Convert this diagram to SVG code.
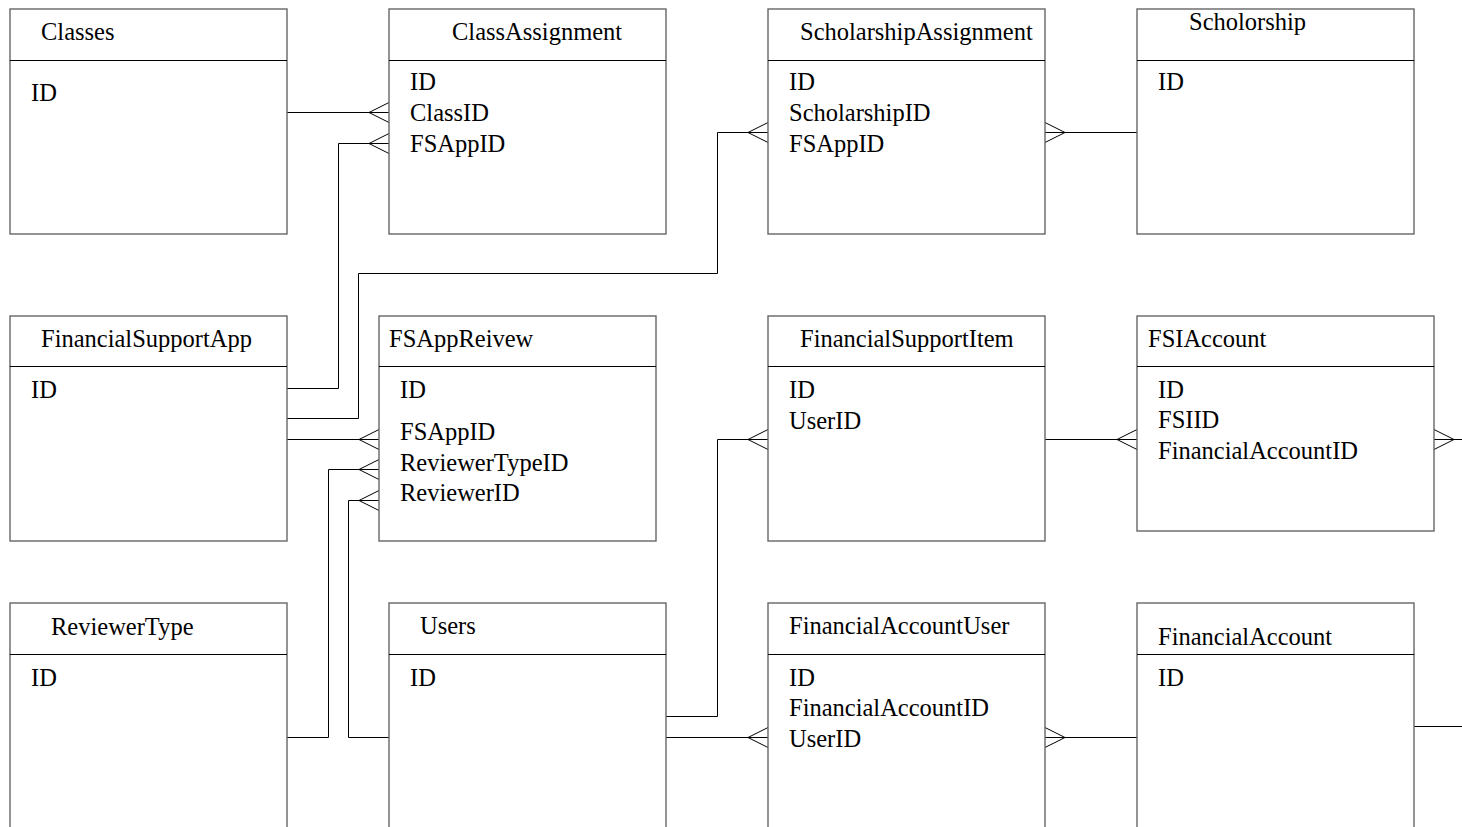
<svg xmlns="http://www.w3.org/2000/svg" width="1462" height="827" viewBox="0 0 1462 827">
  <style>
    .box { fill: #fff; stroke: #666; stroke-width: 1.4; }
    .div { stroke: #000; stroke-width: 1; }
    .t { font-family: "Liberation Serif", "Times New Roman", serif; font-size: 24.5px; fill: #000; }
    .c { fill: none; stroke: #000; stroke-width: 1; }
  </style>
  <defs>
    <!-- crow's foot pointing left into a box edge at local origin -->
    <path id="crowL" d="M0,-10 L-20,0 L0,10" fill="none" stroke="#000" stroke-width="1"/>
    <path id="crowR" d="M0,-10 L20,0 L0,10" fill="none" stroke="#000" stroke-width="1"/>
  </defs>
  <rect width="1462" height="827" fill="#fff"/>

  <g id="connectors">
    <!-- Classes - ClassAssignment -->
    <path class="c" d="M287,112.5 H389"/>
    <use href="#crowL" x="389" y="112.5"/>
    <!-- FinancialSupportApp - ClassAssignment -->
    <path class="c" d="M287,388.5 H338.5 V143.5 H389"/>
    <use href="#crowL" x="389" y="143.5"/>
    <!-- FinancialSupportApp - ScholarshipAssignment -->
    <path class="c" d="M287,418.5 H358.5 V273.5 H717.5 V132.5 H768"/>
    <use href="#crowL" x="768" y="132.5"/>
    <!-- ScholarshipAssignment - Scholorship -->
    <path class="c" d="M1045,132.5 H1137"/>
    <use href="#crowR" x="1045" y="132.5"/>
    <!-- FinancialSupportApp - FSAppReivew -->
    <path class="c" d="M287,439.5 H379"/>
    <use href="#crowL" x="379" y="439.5"/>
    <!-- ReviewerType - FSAppReivew -->
    <path class="c" d="M287,737.5 H328.5 V469.5 H379"/>
    <use href="#crowL" x="379" y="469.5"/>
    <!-- Users - FSAppReivew -->
    <path class="c" d="M389,737.5 H348.5 V500.5 H379"/>
    <use href="#crowL" x="379" y="500.5"/>
    <!-- Users - FinancialSupportItem -->
    <path class="c" d="M666,716.5 H717.5 V439.5 H768"/>
    <use href="#crowL" x="768" y="439.5"/>
    <!-- Users - FinancialAccountUser -->
    <path class="c" d="M666,737.5 H768"/>
    <use href="#crowL" x="768" y="737.5"/>
    <!-- FinancialSupportItem - FSIAccount -->
    <path class="c" d="M1045,439.5 H1137"/>
    <use href="#crowL" x="1137" y="439.5"/>
    <!-- FSIAccount - right -->
    <path class="c" d="M1434,439.5 H1462"/>
    <use href="#crowR" x="1434" y="439.5"/>
    <!-- FinancialAccountUser - FinancialAccount -->
    <path class="c" d="M1045,737.5 H1137"/>
    <use href="#crowR" x="1045" y="737.5"/>
    <!-- FinancialAccount - right -->
    <path class="c" d="M1414,726.5 H1462"/>
  </g>

  <g id="Classes">
    <rect class="box" x="10" y="9" width="277" height="225"/>
    <line class="div" x1="10" y1="60.5" x2="287" y2="60.5"/>
    <text class="t" x="41" y="40">Classes</text>
    <text class="t" x="31" y="101">ID</text>
  </g>

  <g id="ClassAssignment">
    <rect class="box" x="389" y="9" width="277" height="225"/>
    <line class="div" x1="389" y1="60.5" x2="666" y2="60.5"/>
    <text class="t" x="452" y="40">ClassAssignment</text>
    <text class="t" x="410" y="90">ID</text>
    <text class="t" x="410" y="121">ClassID</text>
    <text class="t" x="410" y="152">FSAppID</text>
  </g>

  <g id="ScholarshipAssignment">
    <rect class="box" x="768" y="9" width="277" height="225"/>
    <line class="div" x1="768" y1="60.5" x2="1045" y2="60.5"/>
    <text class="t" x="800" y="40">ScholarshipAssignment</text>
    <text class="t" x="789" y="90">ID</text>
    <text class="t" x="789" y="121">ScholarshipID</text>
    <text class="t" x="789" y="152">FSAppID</text>
  </g>

  <g id="Scholorship">
    <rect class="box" x="1137" y="9" width="277" height="225"/>
    <line class="div" x1="1137" y1="60.5" x2="1414" y2="60.5"/>
    <text class="t" x="1189" y="30">Scholorship</text>
    <text class="t" x="1158" y="90">ID</text>
  </g>

  <g id="FinancialSupportApp">
    <rect class="box" x="10" y="316" width="277" height="225"/>
    <line class="div" x1="10" y1="366.5" x2="287" y2="366.5"/>
    <text class="t" x="41" y="347">FinancialSupportApp</text>
    <text class="t" x="31" y="398">ID</text>
  </g>

  <g id="FSAppReivew">
    <rect class="box" x="379" y="316" width="277" height="225"/>
    <line class="div" x1="379" y1="366.5" x2="656" y2="366.5"/>
    <text class="t" x="389" y="347">FSAppReivew</text>
    <text class="t" x="400" y="398">ID</text>
    <text class="t" x="400" y="440">FSAppID</text>
    <text class="t" x="400" y="471">ReviewerTypeID</text>
    <text class="t" x="400" y="501">ReviewerID</text>
  </g>

  <g id="FinancialSupportItem">
    <rect class="box" x="768" y="316" width="277" height="225"/>
    <line class="div" x1="768" y1="366.5" x2="1045" y2="366.5"/>
    <text class="t" x="800" y="347">FinancialSupportItem</text>
    <text class="t" x="789" y="398">ID</text>
    <text class="t" x="789" y="429">UserID</text>
  </g>

  <g id="FSIAccount">
    <rect class="box" x="1137" y="316" width="297" height="215"/>
    <line class="div" x1="1137" y1="366.5" x2="1434" y2="366.5"/>
    <text class="t" x="1148" y="347">FSIAccount</text>
    <text class="t" x="1158" y="398">ID</text>
    <text class="t" x="1158" y="428">FSIID</text>
    <text class="t" x="1158" y="459">FinancialAccountID</text>
  </g>

  <g id="ReviewerType">
    <rect class="box" x="10" y="603" width="277" height="240"/>
    <line class="div" x1="10" y1="654.5" x2="287" y2="654.5"/>
    <text class="t" x="51" y="635">ReviewerType</text>
    <text class="t" x="31" y="686">ID</text>
  </g>

  <g id="Users">
    <rect class="box" x="389" y="603" width="277" height="240"/>
    <line class="div" x1="389" y1="654.5" x2="666" y2="654.5"/>
    <text class="t" x="420" y="634">Users</text>
    <text class="t" x="410" y="686">ID</text>
  </g>

  <g id="FinancialAccountUser">
    <rect class="box" x="768" y="603" width="277" height="240"/>
    <line class="div" x1="768" y1="654.5" x2="1045" y2="654.5"/>
    <text class="t" x="789" y="634">FinancialAccountUser</text>
    <text class="t" x="789" y="686">ID</text>
    <text class="t" x="789" y="716">FinancialAccountID</text>
    <text class="t" x="789" y="747">UserID</text>
  </g>

  <g id="FinancialAccount">
    <rect class="box" x="1137" y="603" width="277" height="240"/>
    <line class="div" x1="1137" y1="654.5" x2="1414" y2="654.5"/>
    <text class="t" x="1158" y="645">FinancialAccount</text>
    <text class="t" x="1158" y="686">ID</text>
  </g>
</svg>
